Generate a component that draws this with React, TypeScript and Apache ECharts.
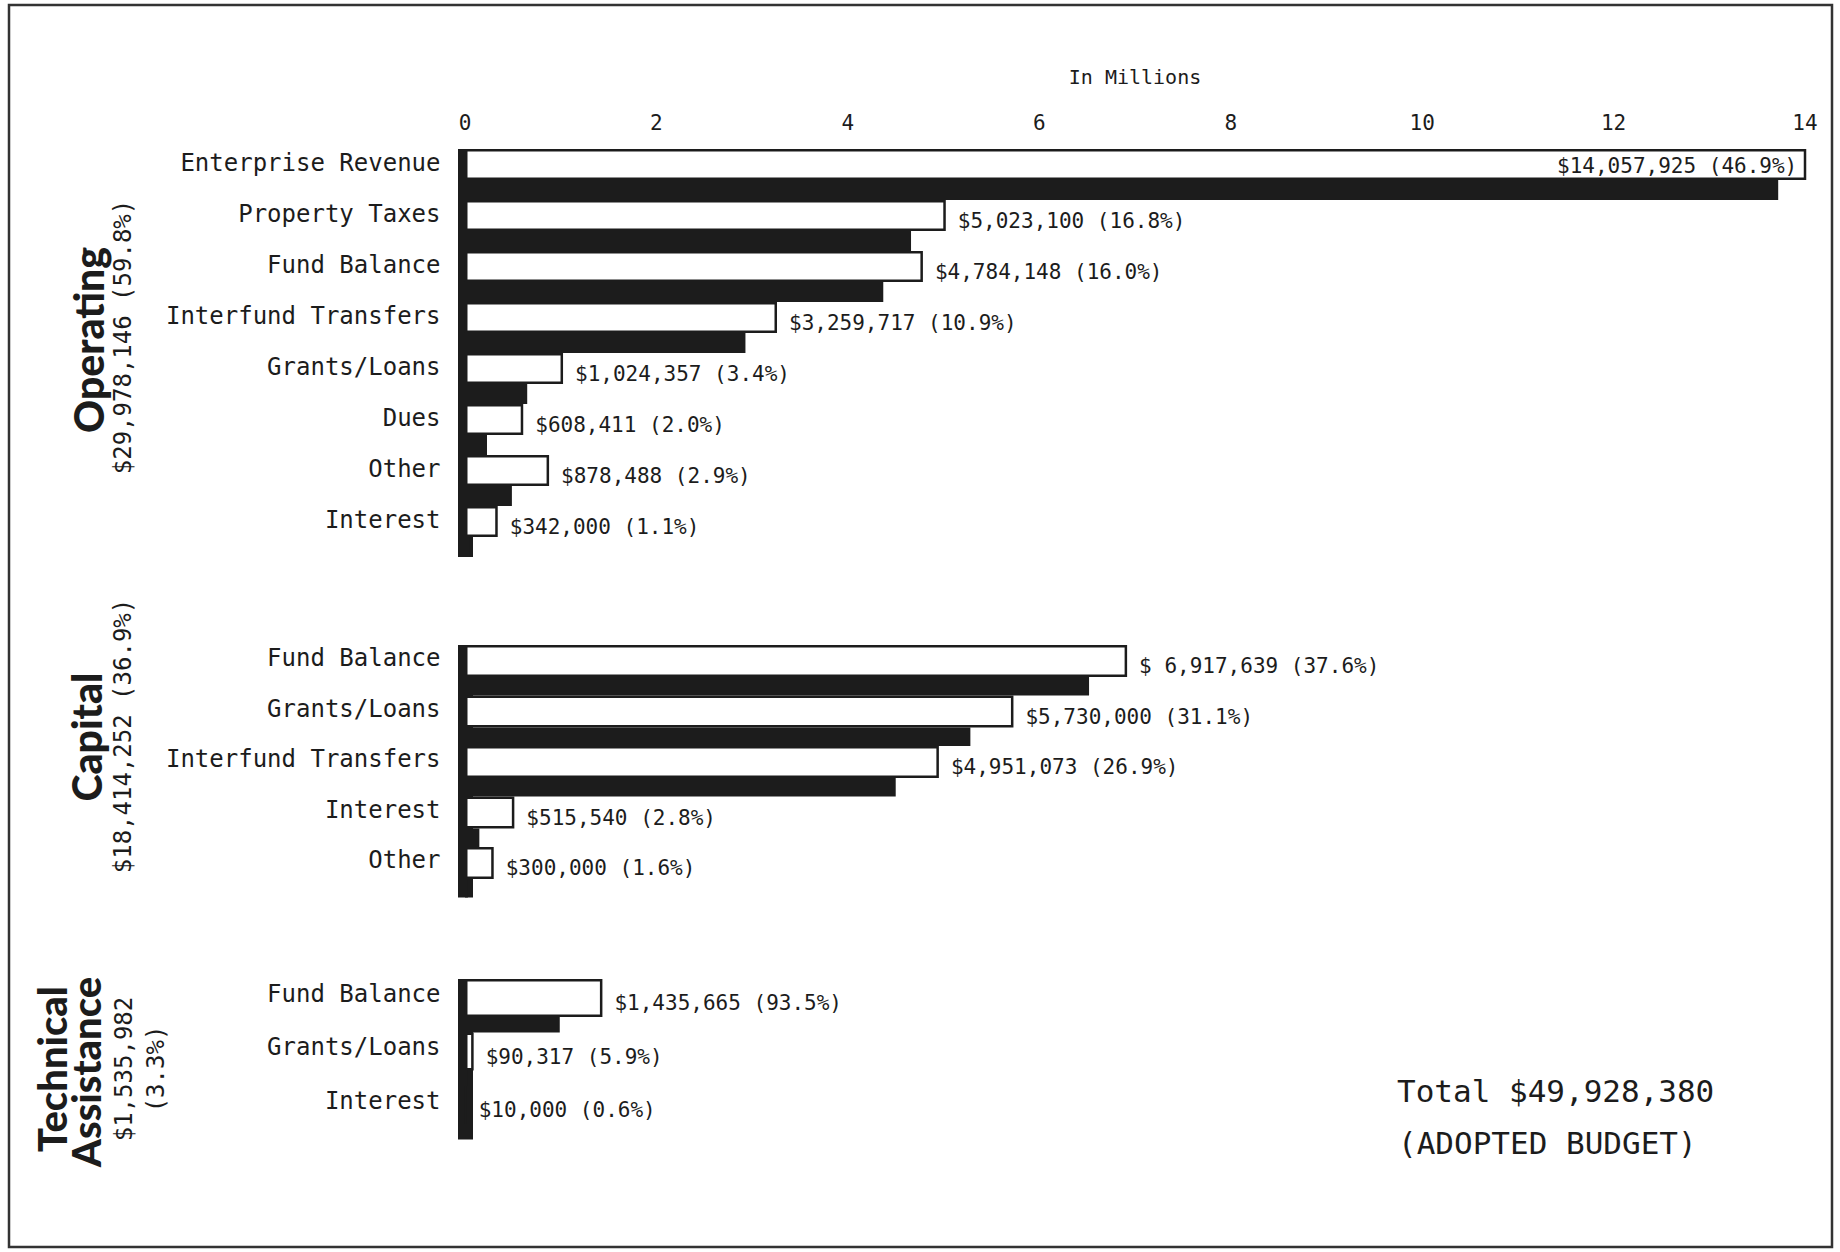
import React, { useEffect, useRef } from "react";
import * as echarts from "echarts";

// ---------- DATA ----------
const tickLabels = ["0", "2", "4", "6", "8", "10", "12", "14"];

const opCategories = ["Enterprise Revenue", "Property Taxes", "Fund Balance", "Interfund Transfers", "Grants/Loans", "Dues", "Other", "Interest"];
const opAmounts = [14057925, 5023100, 4784148, 3259717, 1024357, 608411, 878488, 342000];
const opLabels = ["$14,057,925 (46.9%)", "$5,023,100 (16.8%)", "$4,784,148 (16.0%)", "$3,259,717 (10.9%)", "$1,024,357 (3.4%)", "$608,411 (2.0%)", "$878,488 (2.9%)", "$342,000 (1.1%)"];
const opShadow = [13.72, 4.66, 4.37, 2.93, 0.65, 0.23, 0.49, 0.05];

const capCategories = ["Fund Balance", "Grants/Loans", "Interfund Transfers", "Interest", "Other"];
const capAmounts = [6917639, 5730000, 4951073, 515540, 300000];
const capLabels = ["$ 6,917,639 (37.6%)", "$5,730,000 (31.1%)", "$4,951,073 (26.9%)", "$515,540 (2.8%)", "$300,000 (1.6%)"];
const capShadow = [6.52, 5.28, 4.5, 0.15, 0.03];

const taCategories = ["Fund Balance", "Grants/Loans", "Interest"];
const taAmounts = [1435665, 90317, 10000];
const taLabels = ["$1,435,665 (93.5%)", "$90,317 (5.9%)", "$10,000 (0.6%)"];
const taShadow = [0.99, 0.03, 0.0];

const groupTitles = ["Operating", "Capital", "Technical", "Assistance"];
const groupTotals = ["$29,978,146 (59.8%)", "$18,414,252 (36.9%)", "$1,535,982", "(3.3%)"];
const axisName = "In Millions";
const totalLines = ["Total $49,928,380", "(ADOPTED BUDGET)"];

// ---------- STYLE ----------
const MONO = '"DejaVu Sans Mono", "Liberation Mono", monospace';
const TITLE = 'Lato, "Open Sans", Inter, sans-serif';
const INK = "#1c1c1c";

export default function App() {
  const ref = useRef<HTMLDivElement>(null);

  useEffect(() => {
    if (!ref.current) return;
    const chart = echarts.init(ref.current, undefined, { renderer: "svg" });

    const groups = [
      { cats: opCategories, amounts: opAmounts, labels: opLabels, shadow: opShadow, top: 149, band: 51, white: 31, black: 20 },
      { cats: capCategories, amounts: capAmounts, labels: capLabels, shadow: capShadow, top: 645, band: 50.5, white: 32, black: 18.5 },
      { cats: taCategories, amounts: taAmounts, labels: taLabels, shadow: taShadow, top: 979, band: 53.5, white: 38, black: 15.5 },
    ];

    const grid: any[] = [];
    const xAxis: any[] = [];
    const yAxis: any[] = [];
    const series: any[] = [];

    groups.forEach((g, gi) => {
      grid.push({ left: 465, width: 1340, top: g.top, height: g.band * g.cats.length, containLabel: false });
      xAxis.push({
        gridIndex: gi,
        type: "value",
        min: 0,
        max: 14,
        interval: 2,
        position: "top",
        show: gi === 0,
        name: gi === 0 ? axisName : "",
        nameLocation: "middle",
        nameGap: 62,
        nameTextStyle: { fontFamily: MONO, fontSize: 20, color: INK },
        axisLine: { show: false },
        axisTick: { show: false },
        splitLine: { show: false },
        axisLabel: {
          fontFamily: MONO,
          fontSize: 21,
          color: INK,
          margin: 16,
          formatter: (v: number) => tickLabels[Math.round(v / 2)] ?? String(v),
        },
      });
      yAxis.push({
        gridIndex: gi,
        type: "category",
        data: g.cats,
        inverse: true,
        offset: 6.5,
        axisTick: { show: false },
        axisLine: { show: true, lineStyle: { color: INK, width: 15, cap: "butt" } },
        axisLabel: {
          fontFamily: MONO,
          fontSize: 24,
          color: INK,
          margin: 18,
          verticalAlign: "bottom",
        },
      });
      series.push({
        type: "bar",
        name: "amount-" + gi,
        xAxisIndex: gi,
        yAxisIndex: gi,
        barWidth: g.white,
        barGap: "0%",
        z: 4,
        data: g.amounts.map((a, i) => {
          const v = a / 1e6;
          const inside = v > 12;
          return {
            value: v,
            label: {
              show: true,
              position: inside ? "insideRight" : "right",
              distance: inside ? 9 : 12,
              offset: inside ? [0, 1] : [0, 5],
              formatter: () => g.labels[i],
            },
          };
        }),
        itemStyle: { color: "#ffffff", borderColor: INK, borderWidth: 2.5 },
        label: { fontFamily: MONO, fontSize: 21, color: INK },
      });
      series.push({
        type: "bar",
        name: "shadow-" + gi,
        xAxisIndex: gi,
        yAxisIndex: gi,
        barWidth: g.black,
        barGap: "0%",
        z: 3,
        data: g.shadow,
        itemStyle: { color: INK },
      });
    });

    const rotText = (text: string, x: number, y: number, font: string, size: number, weight: any) => ({
      type: "text",
      x,
      y,
      rotation: Math.PI / 2,
      style: { text, font: `${weight} ${size}px ${font}`, fill: INK, align: "center", verticalAlign: "middle" },
    });

    chart.setOption({
      animation: false,
      backgroundColor: "#ffffff",
      grid,
      xAxis,
      yAxis,
      series,
      graphic: [
        { type: "rect", shape: { x: 9, y: 5, width: 1823, height: 1242 }, style: { fill: "none", stroke: "#333", lineWidth: 2.5 } },
        rotText(groupTitles[0], 88, 340, TITLE, 41, 900),
        rotText(groupTotals[0], 123, 337, MONO, 24, "normal"),
        rotText(groupTitles[1], 86, 737, TITLE, 41, 900),
        rotText(groupTotals[1], 123, 736, MONO, 24, "normal"),
        rotText(groupTitles[2], 52, 1069, TITLE, 40, 900),
        rotText(groupTitles[3], 86, 1072, TITLE, 40, 900),
        rotText(groupTotals[2], 124, 1069, MONO, 24, "normal"),
        rotText(groupTotals[3], 156, 1069, MONO, 24, "normal"),
        { type: "text", x: 1397, y: 1091, style: { text: totalLines[0], font: `normal 31px ${MONO}`, fill: INK, align: "left", verticalAlign: "middle" } },
        { type: "text", x: 1398, y: 1143, style: { text: totalLines[1], font: `normal 31px ${MONO}`, fill: INK, align: "left", verticalAlign: "middle" } },
      ],
    });

    return () => chart.dispose();
  }, []);

  return <div ref={ref} style={{ position: "absolute", left: 0, top: 0, width: 1840, height: 1252, background: "#fff" }} />;
}
